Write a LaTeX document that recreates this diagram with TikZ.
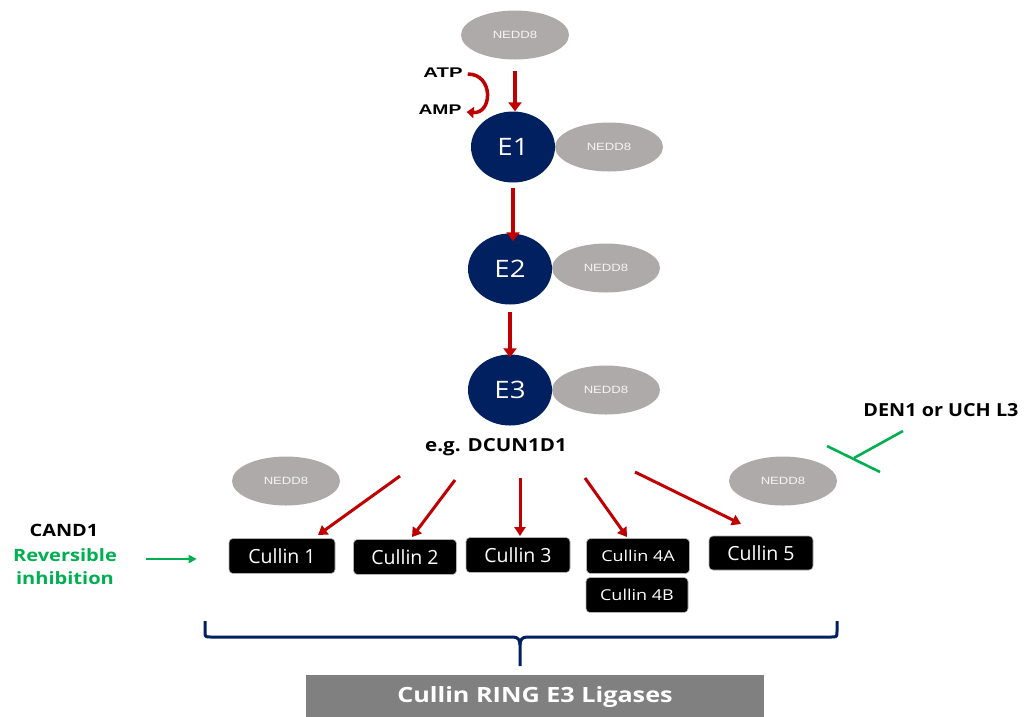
\documentclass[tikz,border=0pt]{standalone}
\usepackage{graphicx}
\usepackage{fontspec}
\setmainfont{Open Sans}
\newfontfamily\arialf{Liberation Sans}
\usetikzlibrary{arrows.meta,shapes.geometric}
\definecolor{navy}{HTML}{002060}
\definecolor{neddgray}{HTML}{AEAAAA}
\definecolor{arrred}{HTML}{C00000}
\definecolor{inhgreen}{HTML}{00B050}
\definecolor{labelgray}{HTML}{808080}
% horizontally widened text
\newcommand{\hs}[2]{\scalebox{#1}[1]{#2}}
\tikzset{
  nedd/.style={ellipse, fill=neddgray, minimum width=108pt, minimum height=49pt,
    inner sep=0pt, text=white!92!gray, font=\arialf\fontsize{10.5}{12}\selectfont},
  enzyme/.style={ellipse, fill=navy, minimum width=84pt, minimum height=71pt,
    inner sep=0pt, text=white, font=\fontsize{24}{28}\selectfont},
  cullin/.style={rectangle, rounded corners=4pt, fill=black, draw=gray!60, line width=0.6pt,
    minimum width=106pt, minimum height=35pt, inner sep=0pt, text=white,
    font=\fontsize{19.5}{22}\selectfont},
  cullinsmall/.style={cullin, font=\fontsize{15}{18}\selectfont},
  redarrow/.style={draw=arrred, line width=4pt, -{Triangle[width=13pt,length=9pt]}},
  fanarrow/.style={draw=arrred, line width=3pt, -{Triangle[width=11pt,length=9pt]}},
  greenarrow/.style={draw=inhgreen, line width=2.4pt, -{Triangle[width=8pt,length=8pt]}},
  boldlabel/.style={font=\bfseries\fontsize{18}{21}\selectfont, inner sep=0pt},
  nucl/.style={font=\arialf\bfseries\fontsize{14}{16}\selectfont, inner sep=0pt},
}
\begin{document}
\begin{tikzpicture}[x=1pt,y=-1pt]
\useasboundingbox (0,0) rectangle (1024,716);

% NEDD8 activation chain
\node[nedd] (n0) at (515,35) {\hs{1.25}{NEDD8}};
\node[enzyme] (e1) at (513,147) {\hs{1.15}{E1}};
\node[nedd] (n1) at (609,147) {\hs{1.25}{NEDD8}};
\node[enzyme] (e2) at (510,269) {\hs{1.15}{E2}};
\node[nedd] (n2) at (606,268) {\hs{1.25}{NEDD8}};
\node[enzyme] (e3) at (510,390) {\hs{1.15}{E3}};
\node[nedd] (n3) at (606,390) {\hs{1.25}{NEDD8}};

\coordinate (a0) at (515,71);
\coordinate (a1) at (513,188);
\coordinate (a2) at (510,312);
\draw[redarrow] (a0) -- (a0 |- e1.north);
\draw[redarrow] (a1) -- ([yshift=-8pt]a1 |- e2.north);
\draw[redarrow] (a2) -- ([yshift=-3pt]a2 |- e3.north);

% ATP -> AMP
\node[nucl] (atp) at (443,73) {\hs{1.45}{ATP}};
\node[nucl] (amp) at (440,110) {\hs{1.38}{AMP}};
\draw[draw=arrred, line width=3.5pt, -{Triangle[width=11pt,length=7pt]}]
  ([xshift=5pt,yshift=-1pt]atp.east) .. controls +(26,0) and +(26,2) .. ([xshift=5pt,yshift=-2pt]amp.east);

\node[boldlabel] (eg) at (496,447) {\hs{1.14}{e.g. DCUN1D1}};

% Free NEDD8
\node[nedd] (n4) at (286,481) {\hs{1.25}{NEDD8}};
\node[nedd] (n5) at (783,481) {\hs{1.25}{NEDD8}};

% Cullin family
\node[cullin] (c1) at (282,556) {Cullin 1};
\node[cullin, minimum width=103pt] (c2) at (405,557) {Cullin 2};
\node[cullin, minimum width=104pt] (c3) at (518,555) {Cullin 3};
\node[cullinsmall, minimum width=103pt] (c4a) at (638,556) {\hs{1.2}{Cullin 4A}};
\node[cullinsmall, minimum width=102pt] (c4b) at (637,595) {\hs{1.2}{Cullin 4B}};
\node[cullin, minimum width=104pt, minimum height=34pt] (c5) at (761,553) {Cullin 5};

% Transfer to the cullins
\coordinate (f1) at (400,476);
\coordinate (f2) at (455,480);
\coordinate (f3) at (520,478);
\coordinate (f4) at (585,478);
\coordinate (f5) at (635,472);
\coordinate (t1) at (318,535);
\coordinate (t2) at (412,537);
\coordinate (t3) at (520,536);
\coordinate (t4) at (627,537);
\coordinate (t5) at (741,524);
\foreach \i in {1,...,5} \draw[fanarrow] (f\i) -- (t\i);

% CAND1
\node[boldlabel, font=\bfseries\fontsize{17}{20}\selectfont] (cand) at (64,530) {\hs{1.17}{CAND1}};
\node[boldlabel, text=inhgreen, align=center, font=\bfseries\fontsize{17}{23}\selectfont] (rev) at (65,567)
  {\hs{1.18}{Reversible}\\\hs{1.18}{inhibition}};
\coordinate (g0) at (146,559);
\draw[greenarrow] (g0) -- ([xshift=-32pt]c1.west |- g0);

% Deneddylase
\node[boldlabel] (den) at (941,410) {\hs{1.1}{DEN1 or UCH L3}};
\coordinate (s0) at (903,431);
\coordinate (s1) at (854,458);
\coordinate (b0) at (827,446);
\coordinate (b1) at (880,472);
\draw[inhgreen, line width=2.6pt] (s0) -- (s1);
\draw[inhgreen, line width=2.6pt] (b0) -- (b1);

% Brace grouping the cullins
\coordinate (brl) at (205,621);
\coordinate (brr) at (837,621);
\coordinate (brtip) at (520,666);
\draw[navy, line width=3pt, line join=round]
  (brl) -- (205,631) .. controls (205,637) .. (211,637) -- (513,637)
  .. controls (518,637) and (520,640) .. (520,645) -- (brtip);
\draw[navy, line width=3pt, line join=round]
  (brr) -- (837,631) .. controls (837,637) .. (831,637) -- (527,637)
  .. controls (522,637) and (520,640) .. (520,645);

% Family label
\node[fill=labelgray, minimum width=458pt, minimum height=44pt, inner sep=0pt,
  text=white, font=\bfseries\fontsize{21}{25}\selectfont, anchor=north] (crl) at (535,675)
  {\raisebox{1pt}{\hs{1.2}{Cullin RING E3 Ligases}}};
\end{tikzpicture}
\end{document}
